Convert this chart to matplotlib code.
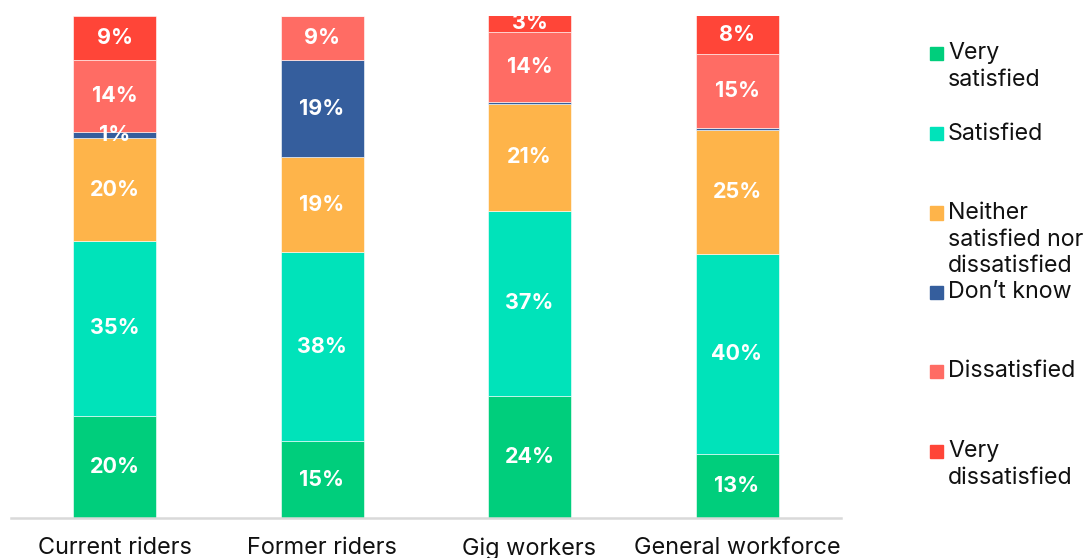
import matplotlib
matplotlib.use("Agg")
import matplotlib.pyplot as plt
from matplotlib.patches import Rectangle
import numpy as np

categories = ["Current riders", "Former riders", "Gig workers", "General workforce"]
series_names = ["Very\nsatisfied", "Satisfied", "Neither\nsatisfied nor\ndissatisfied",
                "Don\u2019t know", "Dissatisfied", "Very\ndissatisfied"]
very_satisfied = [20.3, 15.3, 24.4, 12.7]
satisfied = [34.9, 37.6, 36.8, 39.9]
neither = [20.4, 19.0, 21.3, 24.6]
dont_know = [1.3, 19.3, 0.3, 0.4]
dissatisfied = [14.3, 8.8, 14.1, 14.9]
very_dissatisfied = [8.8, 0.0, 3.4, 7.6]
colors = ["#00CE7C", "#00E3BA", "#FEB44A", "#355E9D", "#FF6C64", "#FF4538"]

series = [very_satisfied, satisfied, neither, dont_know, dissatisfied, very_dissatisfied]

plt.rcParams['font.family'] = ['Inter', 'DejaVu Sans']

W, H = 1088, 558
fig = plt.figure(figsize=(W / 100, H / 100), dpi=100)
ax = fig.add_axes([10.75 / W, (H - 518) / H, 830 / W, 502 / H])

x = np.arange(len(categories))
bottom = np.zeros(len(categories))
for vals, col in zip(series, colors):
    vals = np.array(vals)
    ax.bar(x, vals, 0.4, bottom=bottom, color=col, edgecolor="white", linewidth=0.4)
    for xi, v, b in zip(x, vals, bottom):
        if v >= 1:
            ax.text(xi, b + v / 2, f"{v:.0f}%", ha="center", va="center",
                    color="white", fontsize=15.5, fontweight="bold")
    bottom += vals

ax.set_xlim(-0.5, 3.5)
ax.set_ylim(0, 100)
ax.set_xticks(x)
ax.set_xticklabels(categories, fontsize=16.9, color="#111111")
ax.tick_params(axis="x", length=0, pad=14)
ax.set_yticks([])
for s in ["top", "left", "right"]:
    ax.spines[s].set_visible(False)
ax.spines["bottom"].set_color("#d9d9d9")
ax.spines["bottom"].set_linewidth(1.8)

# legend, drawn manually to match the irregular spacing
legend_y = [53.5, 133.7, 213, 292.3, 371.3, 451.3]
line_h = 26.5
for name, col, yc in zip(series_names, colors, legend_y):
    fig.patches.append(Rectangle((930 / W, (H - yc - 6.5) / H), 13 / W, 13 / H,
                                 transform=fig.transFigure, color=col))
    for i, line in enumerate(name.split("\n")):
        fig.text(948 / W, (H - yc - i * line_h) / H, line, ha="left", va="center",
                 fontsize=16.7, color="#111111")

fig.savefig("out.png", dpi=100)
